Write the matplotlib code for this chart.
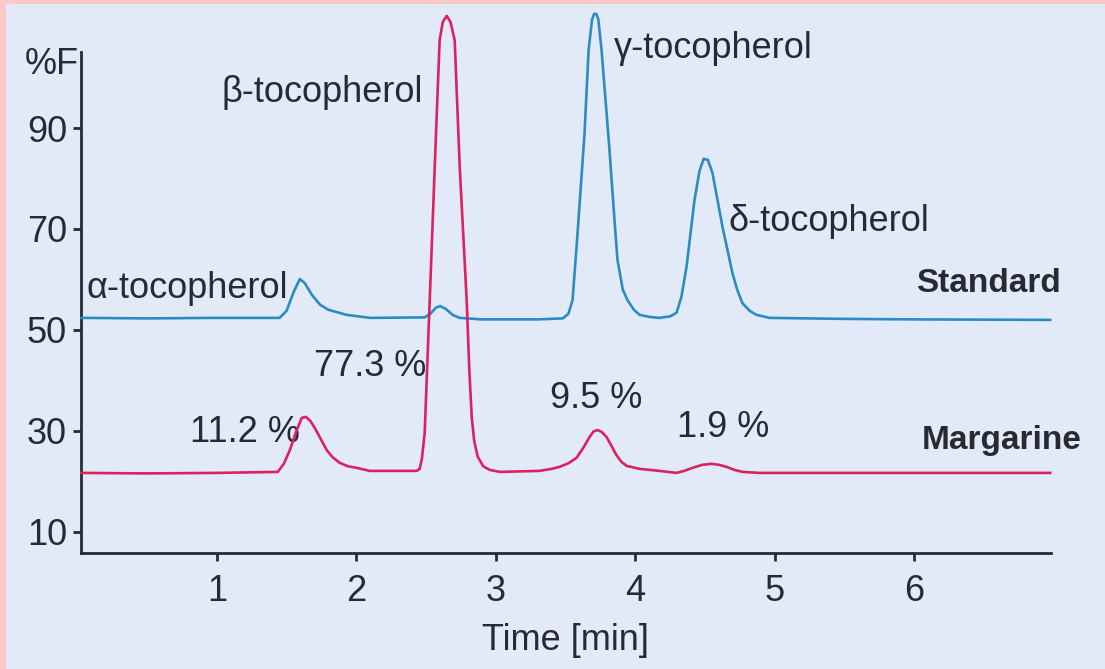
import matplotlib
matplotlib.use("Agg")
import matplotlib.pyplot as plt
from matplotlib.patches import Rectangle

# chromatogram traces (time in min, signal in %F)
std_time = [0.03, 0.5, 1.0, 1.45, 1.50, 1.55, 1.595, 1.63, 1.68, 1.74, 1.80, 1.93, 2.10,
            2.49, 2.53, 2.57, 2.60, 2.64, 2.69, 2.74, 2.9, 3.3,
            3.48, 3.52, 3.55, 3.586, 3.636, 3.665, 3.69, 3.705, 3.72, 3.735, 3.758, 3.815, 3.85,
            3.872, 3.91, 3.944, 3.99, 4.03, 4.10, 4.173, 4.25, 4.295, 4.33, 4.367, 4.424, 4.46,
            4.49, 4.52, 4.553, 4.625, 4.696, 4.73, 4.768, 4.82, 4.868, 4.961, 5.5, 6.0, 6.974]
std_signal = [52.4, 52.3, 52.4, 52.4, 53.8, 57.5, 60.1, 59.3, 57.0, 55.0, 54.0, 53.0, 52.4,
              52.5, 53.2, 54.4, 54.75, 54.2, 53.0, 52.4, 52.1, 52.1,
              52.3, 53.2, 55.9, 69.2, 89.0, 105.4, 111.5, 112.6, 112.6, 111.5, 105.4, 85.6, 72.0,
              63.9, 58.0, 55.9, 54.0, 53.0, 52.6, 52.4, 52.7, 53.4, 56.5, 62.5, 75.7, 81.5,
              83.9, 83.7, 81.1, 70.4, 61.3, 58.0, 55.3, 53.8, 53.0, 52.4, 52.2, 52.1, 52.0]

mar_time = [0.03, 0.5, 1.0, 1.437, 1.48, 1.523, 1.57, 1.609, 1.638, 1.67, 1.702, 1.788, 1.83,
            1.881, 1.94, 2.003, 2.096, 2.433, 2.454, 2.47, 2.49, 2.526, 2.562, 2.597, 2.62,
            2.648, 2.675, 2.705, 2.741, 2.791, 2.81, 2.827, 2.845, 2.870, 2.91, 2.956, 3.027,
            3.314, 3.40, 3.457, 3.52, 3.579, 3.63, 3.672, 3.70, 3.729, 3.76, 3.794, 3.83, 3.865,
            3.90, 3.937, 4.03, 4.173, 4.295, 4.35, 4.41, 4.48, 4.546, 4.60, 4.653, 4.71, 4.768,
            4.89, 6.974]
mar_signal = [21.7, 21.6, 21.7, 21.9, 23.5, 26.2, 30.0, 32.6, 32.8, 32.0, 30.6, 26.2, 24.8,
              23.7, 23.0, 22.7, 22.1, 22.1, 22.5, 24.5, 29.6, 55.9, 82.3, 107.4, 111.0,
              112.2, 111.0, 107.4, 82.3, 55.9, 42.0, 32.8, 28.0, 24.9, 23.0, 22.3, 21.9,
              22.1, 22.5, 22.9, 23.6, 24.7, 26.8, 28.8, 29.9, 30.2, 29.8, 28.8, 27.0, 25.2,
              23.9, 23.1, 22.5, 22.1, 21.7, 22.1, 22.7, 23.3, 23.5, 23.3, 22.9, 22.3, 21.9,
              21.7, 21.7]

peak_names = ["α-tocopherol", "β-tocopherol", "γ-tocopherol", "δ-tocopherol"]
peak_shares = ["11.2 %", "77.3 %", "9.5 %", "1.9 %"]
y_ticks = [10, 30, 50, 70, 90]
x_ticks = [1, 2, 3, 4, 5, 6]

plt.rcParams["font.family"] = ["Liberation Sans", "DejaVu Sans"]
ink = "#262b33"
blue = "#2b8cc2"
red = "#da2260"

fig = plt.figure(figsize=(11.05, 6.69), dpi=100)
fig.patch.set_facecolor("#fdc8c8")
fig.patches.append(Rectangle((6 / 1105, 0), 1, 1 - 4 / 669, transform=fig.transFigure,
                             facecolor="#e3eaf7", edgecolor="none", zorder=-10))

ax = fig.add_axes([81 / 1105, 1 - 553 / 669, (1051 - 81) / 1105, (553 - 52) / 669])
ax.set_zorder(5)
ax.set_facecolor("none")
ax.plot(std_time, std_signal, color=blue, lw=1.9, clip_on=False, zorder=3,
        solid_joinstyle="round")
ax.plot(mar_time, mar_signal, color=red, lw=1.9, clip_on=False, zorder=4,
        solid_joinstyle="round")

ax.set_xlim(0.026, 6.98)
ax.set_ylim(5.84, 105.05)
ax.set_xticks(x_ticks)
ax.set_yticks(y_ticks)
ax.spines["top"].set_visible(False)
ax.spines["right"].set_visible(False)
for s in ["left", "bottom"]:
    ax.spines[s].set_linewidth(2.0)
    ax.spines[s].set_color(ink)
ax.tick_params(length=6, width=2, colors=ink, labelsize=26)
ax.tick_params(axis="x", pad=9)
ax.tick_params(axis="y", pad=4)
ax.set_xlabel("Time [min]", fontsize=26, color=ink, labelpad=10)

fs = 26
ax.text(-0.18, 102.5, "%F", fontsize=fs, color=ink, ha="center", va="center")
ax.text(0.785, 58.3, peak_names[0], fontsize=fs, color=ink, ha="center", va="center")
ax.text(1.752, 97.1, peak_names[1], fontsize=fs, color=ink, ha="center", va="center")
ax.text(4.56, 105.8, peak_names[2], fontsize=fs, color=ink, ha="center", va="center")
ax.text(5.384, 71.4, peak_names[3], fontsize=fs, color=ink, ha="center", va="center")

ax.text(1.20, 29.8, peak_shares[0], fontsize=fs, color=ink, ha="center", va="center")
ax.text(2.096, 42.7, peak_shares[1], fontsize=fs, color=ink, ha="center", va="center")
ax.text(3.72, 36.5, peak_shares[2], fontsize=fs, color=ink, ha="center", va="center")
ax.text(4.63, 30.6, peak_shares[3], fontsize=fs, color=ink, ha="center", va="center")

ax.text(7.053, 59.3, "Standard", fontsize=24, color=ink, ha="right", va="center",
        fontweight="bold", clip_on=False)
ax.text(7.196, 28.2, "Margarine", fontsize=24, color=ink, ha="right", va="center",
        fontweight="bold", clip_on=False)

fig.savefig("out.png", dpi=100, facecolor=fig.get_facecolor())
